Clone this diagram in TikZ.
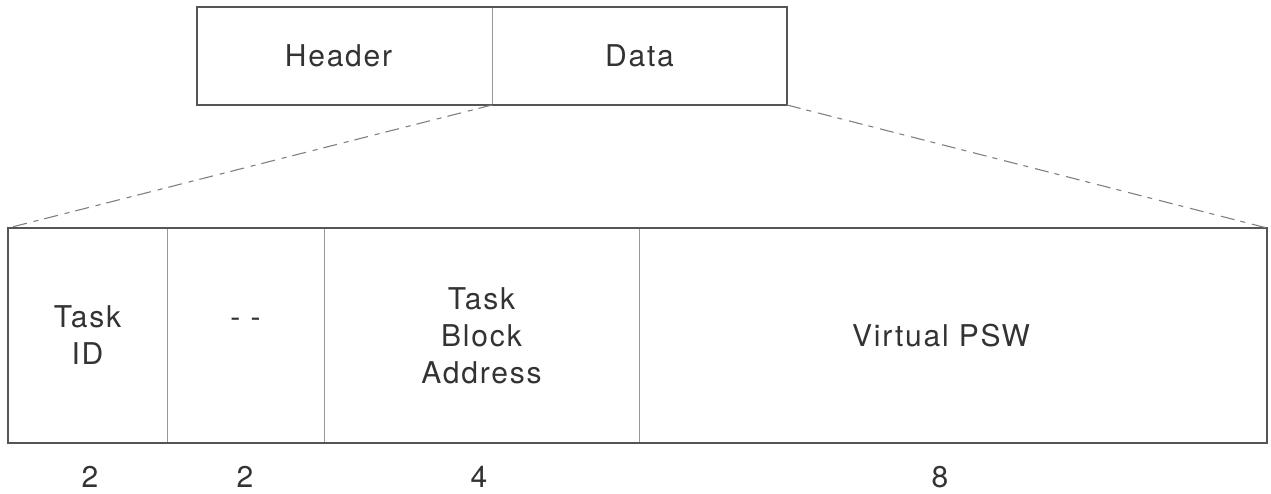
\documentclass[tikz,border=0pt]{standalone}
\usepackage{fontspec}
\setmainfont{TeX Gyre Heros}[LetterSpace=6]
\definecolor{txt}{HTML}{333333}
\definecolor{frame}{HTML}{555555}
\definecolor{divider}{HTML}{999999}
\definecolor{zoomline}{HTML}{808080}
\begin{document}
\begin{tikzpicture}[x=1pt,y=-1pt,
  every node/.style={font=\fontsize{30}{37}\selectfont, text=txt},
  cell/.style={draw=divider, line width=1pt, inner sep=0pt, outer sep=0pt, align=center},
  outer/.style={draw=frame, line width=2.4pt},
  zoom/.style={draw=zoomline, line width=1.1pt, dash pattern=on 14pt off 6pt on 5pt off 7pt},
  size/.style={anchor=base, inner sep=0pt}]
\useasboundingbox (0,0) rectangle (1271,493);
% top packet
\node[cell, minimum width=295pt, minimum height=98pt, anchor=north west] (header) at (197,7) {Header\hspace*{12pt}};
\node[cell, minimum width=295pt, minimum height=98pt, anchor=north west] (data) at (header.north east) {Data};
\draw[outer] (header.north west) rectangle (data.south east);
% bottom packet
\node[cell, minimum width=159pt, minimum height=215pt, anchor=north west] (taskid) at (8,228) {Task\\ID};
\node[cell, minimum width=157pt, minimum height=215pt, anchor=north west] (spare) at (taskid.north east) {\vphantom{T}- -\\\phantom{ID}};
\node[cell, minimum width=315pt, minimum height=215pt, anchor=north west] (tba) at (spare.north east) {Task\\Block\\Address};
\node[cell, minimum width=628pt, minimum height=215pt, anchor=north west] (vpsw) at (tba.north east) {Virtual PSW\hspace*{24pt}};
\draw[outer] (taskid.north west) rectangle (vpsw.south east);
% zoom lines
\draw[zoom] (header.south east) -- (taskid.north west);
\draw[zoom] (data.south east) -- (vpsw.north east);
% sizes
\node[size] (s1) at (90,487) {2};
\node[size] (s2) at (245,487) {2};
\node[size] (s3) at (479,487) {4};
\node[size] (s4) at (940,487) {8};
\end{tikzpicture}
\end{document}
